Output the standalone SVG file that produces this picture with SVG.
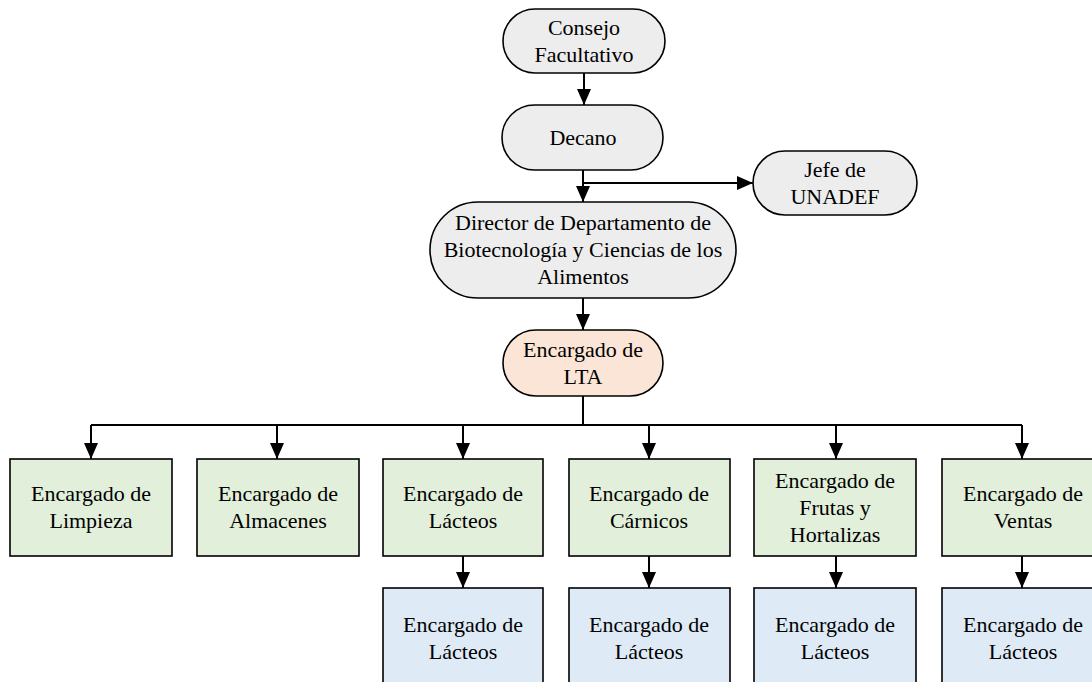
<svg xmlns="http://www.w3.org/2000/svg" width="1092" height="682" viewBox="0 0 1092 682">
  <defs>
    <style>
      .node { stroke: #000; stroke-width: 1.6; }
      .grey { fill: #EDEDED; }
      .peach { fill: #FBE5D6; }
      .green { fill: #E2EFDA; }
      .blue { fill: #DEEBF7; }
      text { font-family: 'Liberation Serif', 'Times New Roman', Times, serif; font-size: 22px; fill: #000; text-anchor: middle; }
      .edge { fill: none; stroke: #000; stroke-width: 2; }
    </style>
    <marker id="arrow" viewBox="0 0 16 14" refX="16" refY="7" markerWidth="16" markerHeight="14" markerUnits="userSpaceOnUse" orient="auto">
      <path d="M0,0 L16,7 L0,14 z" fill="#000"/>
    </marker>
  </defs>

  <rect width="1092" height="682" fill="#fff"/>

  <!-- connectors -->
  <g id="connectors" class="edge">
    <path d="M584,73 V105" marker-end="url(#arrow)"/>
    <path d="M583,170 V202" marker-end="url(#arrow)"/>
    <path d="M583,183 H753" marker-end="url(#arrow)"/>
    <path d="M583,298 V330" marker-end="url(#arrow)"/>
    <path d="M583,396 V425"/>
    <path d="M91,425 H1022"/>
    <path d="M91,425 V459" marker-end="url(#arrow)"/>
    <path d="M277,425 V459" marker-end="url(#arrow)"/>
    <path d="M463,425 V459" marker-end="url(#arrow)"/>
    <path d="M649,425 V459" marker-end="url(#arrow)"/>
    <path d="M836,425 V459" marker-end="url(#arrow)"/>
    <path d="M1022,425 V459" marker-end="url(#arrow)"/>
    <path d="M463,556 V588" marker-end="url(#arrow)"/>
    <path d="M649,556 V588" marker-end="url(#arrow)"/>
    <path d="M836,556 V588" marker-end="url(#arrow)"/>
    <path d="M1022,556 V588" marker-end="url(#arrow)"/>
  </g>

  <g font-family="Liberation Serif, serif">
  <g id="consejo">
    <rect class="node grey" x="503" y="9" width="162" height="64" rx="32"/>
    <text x="584" y="35">Consejo</text>
    <text x="584" y="62">Facultativo</text>
  </g>

  <g id="decano">
    <rect class="node grey" x="502" y="105" width="161" height="65" rx="32.5"/>
    <text x="583" y="145">Decano</text>
  </g>

  <g id="jefe-unadef">
    <rect class="node grey" x="753" y="151" width="164" height="64" rx="32"/>
    <text x="835" y="177">Jefe de</text>
    <text x="835" y="204">UNADEF</text>
  </g>

  <g id="director">
    <rect class="node grey" x="430" y="202" width="306" height="96" rx="48"/>
    <text x="583" y="230">Director de Departamento de</text>
    <text x="583" y="257">Biotecnología y Ciencias de los</text>
    <text x="583" y="284">Alimentos</text>
  </g>

  <g id="encargado-lta">
    <rect class="node peach" x="503" y="330" width="160" height="66" rx="33"/>
    <text x="583" y="357">Encargado de</text>
    <text x="583" y="384">LTA</text>
  </g>

  <g id="limpieza">
    <rect class="node green" x="10" y="459" width="162" height="97"/>
    <text x="91" y="501">Encargado de</text>
    <text x="91" y="528">Limpieza</text>
  </g>

  <g id="almacenes">
    <rect class="node green" x="197" y="459" width="162" height="97"/>
    <text x="278" y="501">Encargado de</text>
    <text x="278" y="528">Almacenes</text>
  </g>

  <g id="lacteos">
    <rect class="node green" x="383" y="459" width="160" height="97"/>
    <text x="463" y="501">Encargado de</text>
    <text x="463" y="528">Lácteos</text>
  </g>

  <g id="carnicos">
    <rect class="node green" x="569" y="459" width="161" height="97"/>
    <text x="649" y="501">Encargado de</text>
    <text x="649" y="528">Cárnicos</text>
  </g>

  <g id="frutas">
    <rect class="node green" x="754" y="459" width="162" height="97"/>
    <text x="835" y="488">Encargado de</text>
    <text x="835" y="515">Frutas y</text>
    <text x="835" y="542">Hortalizas</text>
  </g>

  <g id="ventas">
    <rect class="node green" x="942" y="459" width="162" height="97"/>
    <text x="1023" y="501">Encargado de</text>
    <text x="1023" y="528">Ventas</text>
  </g>

  <g id="sub-lacteos">
    <rect class="node blue" x="383" y="588" width="160" height="104"/>
    <text x="463" y="632">Encargado de</text>
    <text x="463" y="659">Lácteos</text>
  </g>

  <g id="sub-carnicos">
    <rect class="node blue" x="569" y="588" width="161" height="104"/>
    <text x="649" y="632">Encargado de</text>
    <text x="649" y="659">Lácteos</text>
  </g>

  <g id="sub-frutas">
    <rect class="node blue" x="754" y="588" width="162" height="104"/>
    <text x="835" y="632">Encargado de</text>
    <text x="835" y="659">Lácteos</text>
  </g>

  <g id="sub-ventas">
    <rect class="node blue" x="942" y="588" width="162" height="104"/>
    <text x="1023" y="632">Encargado de</text>
    <text x="1023" y="659">Lácteos</text>
  </g>
  </g>
</svg>
